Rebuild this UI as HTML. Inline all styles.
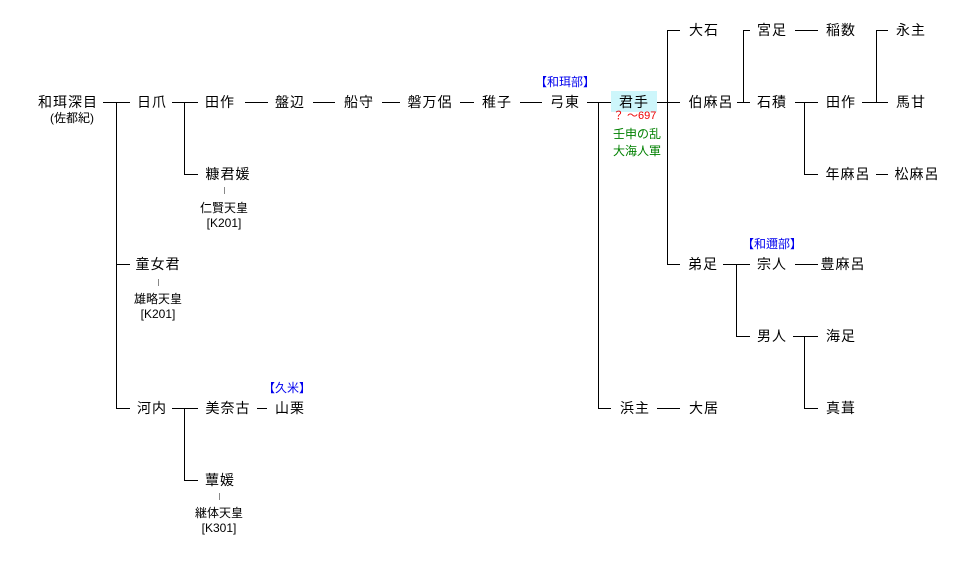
<!DOCTYPE html>
<html><head><meta charset="utf-8"><style>
body{margin:0;background:#fff;width:956px;height:563px;position:relative;overflow:hidden;font-family:"Liberation Sans","Noto Sans CJK JP",sans-serif;}
.t{position:absolute;transform:translate(-50%,-50%);white-space:nowrap;font-size:14px;color:#000;letter-spacing:1px;line-height:1;}
.s{font-size:12px;letter-spacing:0;}
.b{color:#0000ee;font-size:12px;letter-spacing:0;}
.l{position:absolute;white-space:nowrap;font-size:12px;line-height:1;}
svg{position:absolute;left:0;top:0;}
</style></head><body>
<div style="position:absolute;left:611px;top:91px;width:46px;height:21px;background:#cdf6fb"></div>
<svg width="956" height="563" stroke="#000" stroke-width="1" shape-rendering="crispEdges">
<path d="M103 102.5H130M116.5 102V408M116 264.5H130M116 408.5H130
M172 102.5H198M184.5 102V174M184 174.5H198
M245 102.5H268M313 102.5H335M382 102.5H400M460 102.5H474M520 102.5H542
M587 102.5H611M598.5 102V408M598 408.5H611
M657 102.5H680M667.5 30V264M667 30.5H680M667 264.5H680
M737 102.5H750M743.5 30V102M743 30.5H750
M795 30.5H818M795 102.5H818M804.5 102V174M804 174.5H818M876 174.5H888
M862 102.5H888M876.5 30V102M876 30.5H888
M723 264.5H750M736.5 264V336M736 336.5H750M795 264.5H818
M793 336.5H818M804.5 336V408M804 408.5H818
M657 408.5H680
M172 408.5H198M184.5 408V480M184 480.5H198M257 408.5H267"/>
<path stroke="#888" d="M158.5 279V286M224.5 187V194M219.5 493V500"/>
</svg>
<div class="t" style="left:68px;top:102px">和珥深目</div>
<div class="t s" style="left:72px;top:118px">(佐都紀)</div>
<div class="t" style="left:152px;top:102px">日爪</div>
<div class="t" style="left:220px;top:102px">田作</div>
<div class="t" style="left:290px;top:102px">盤辺</div>
<div class="t" style="left:359px;top:102px">船守</div>
<div class="t" style="left:430px;top:102px">磐万侶</div>
<div class="t" style="left:497px;top:102px">稚子</div>
<div class="t" style="left:565px;top:102px">弓東</div>
<div class="t b" style="left:565px;top:82px">【和珥部】</div>
<div class="t" style="left:634px;top:102px">君手</div>
<div class="l" style="left:613px;top:111px;color:#e00;font-size:11px">？ ～697</div>
<div class="l" style="left:613px;top:128px;color:#008000">壬申の乱</div>
<div class="l" style="left:613px;top:145px;color:#008000">大海人軍</div>
<div class="t" style="left:704px;top:30px">大石</div>
<div class="t" style="left:711px;top:102px">伯麻呂</div>
<div class="t" style="left:772px;top:30px">宮足</div>
<div class="t" style="left:772px;top:102px">石積</div>
<div class="t" style="left:841px;top:30px">稲数</div>
<div class="t" style="left:841px;top:102px">田作</div>
<div class="t" style="left:911px;top:30px">永主</div>
<div class="t" style="left:911px;top:102px">馬甘</div>
<div class="t" style="left:848px;top:174px">年麻呂</div>
<div class="t" style="left:917px;top:174px">松麻呂</div>
<div class="t" style="left:703px;top:264px">弟足</div>
<div class="t b" style="left:772px;top:244px">【和邇部】</div>
<div class="t" style="left:772px;top:264px">宗人</div>
<div class="t" style="left:843px;top:264px">豊麻呂</div>
<div class="t" style="left:772px;top:336px">男人</div>
<div class="t" style="left:841px;top:336px">海足</div>
<div class="t" style="left:841px;top:408px">真葺</div>
<div class="t" style="left:635px;top:408px">浜主</div>
<div class="t" style="left:704px;top:408px">大居</div>
<div class="t" style="left:228px;top:174px">糠君媛</div>
<div class="t s" style="left:224px;top:208px">仁賢天皇</div>
<div class="t s" style="left:224px;top:223px">[K201]</div>
<div class="t" style="left:158px;top:264px">童女君</div>
<div class="t s" style="left:158px;top:299px">雄略天皇</div>
<div class="t s" style="left:158px;top:314px">[K201]</div>
<div class="t" style="left:152px;top:408px">河内</div>
<div class="t" style="left:228px;top:408px">美奈古</div>
<div class="t" style="left:290px;top:408px">山栗</div>
<div class="t b" style="left:287px;top:388px">【久米】</div>
<div class="t" style="left:220px;top:480px">蕈媛</div>
<div class="t s" style="left:219px;top:513px">継体天皇</div>
<div class="t s" style="left:219px;top:528px">[K301]</div>
</body></html>
